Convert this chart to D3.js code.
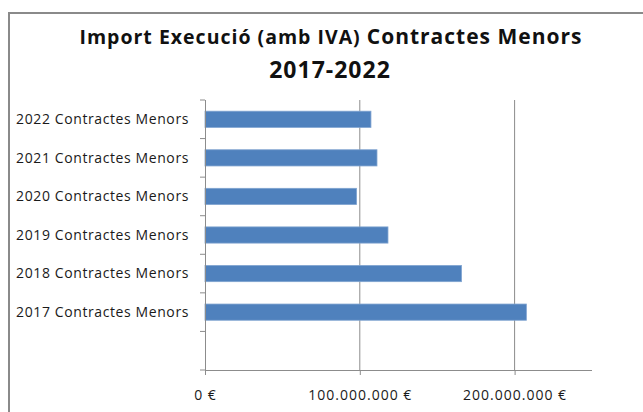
<!DOCTYPE html>
<html>
<head>
<meta charset="utf-8">
<script src="https://cdn.jsdelivr.net/npm/d3@7"></script>
<style>
  body { margin: 0; background: #fff; }
  svg { display: block; font-family: "Open Sans", "Liberation Sans", sans-serif; }
</style>
</head>
<body>
<div id="chart"></div>
<script>
// imports de contractes menors per any (euros, amb IVA)
const categories = [
  "2022 Contractes Menors",
  "2021 Contractes Menors",
  "2020 Contractes Menors",
  "2019 Contractes Menors",
  "2018 Contractes Menors",
  "2017 Contractes Menors",
  "",
];
const values = [107200000, 111100000, 97900000, 118200000, 165700000, 207600000, null];
const xTicks = [0, 100000000, 200000000];
const xMax = 250000000;

const W = 643, H = 412;
const plot = { left: 205, right: 592, top: 100, bottom: 370 };

const svg = d3.select("#chart").append("svg").attr("width", W).attr("height", H);

// marc del grafic (només es veuen les vores esquerra i superior)
svg.append("rect")
  .attr("x", 9).attr("y", 13)
  .attr("width", W + 20).attr("height", H + 20)
  .attr("fill", "#fff").attr("stroke", "#8a8a8a").attr("stroke-width", 2);

const x = d3.scaleLinear().domain([0, xMax]).range([plot.left, plot.right]);
const y = d3.scaleBand().domain(d3.range(categories.length)).range([plot.top, plot.bottom]).paddingInner(0.58).paddingOuter(0.29);
const yStep = d3.scaleBand().domain(d3.range(categories.length)).range([plot.top, plot.bottom]);

// titol
const title = svg.append("text")
  .attr("x", 331).attr("y", 44)
  .attr("text-anchor", "middle")
  .attr("font-weight", 700)
  .attr("letter-spacing", 1)
  .attr("fill", "#111");
title.append("tspan").attr("font-size", 19.5).text("Import Execució (amb IVA) ");
title.append("tspan").attr("font-size", 21).text("Contractes Menors");
svg.append("text")
  .attr("x", 330).attr("y", 78)
  .attr("text-anchor", "middle")
  .attr("font-weight", 700)
  .attr("font-size", 23)
  .attr("letter-spacing", 1)
  .attr("fill", "#111")
  .text("2017-2022");

// linies de graella verticals
svg.append("g")
  .selectAll("line")
  .data(xTicks.filter((t) => t > 0))
  .join("line")
  .attr("x1", (d) => x(d)).attr("x2", (d) => x(d))
  .attr("y1", plot.top).attr("y2", plot.bottom)
  .attr("stroke", "#8c8c8c").attr("stroke-width", 1);

// barres
svg.append("g")
  .selectAll("rect")
  .data(values.map((v, i) => ({ v, i })).filter((d) => d.v != null))
  .join("rect")
  .attr("x", x(0))
  .attr("y", (d) => y(d.i))
  .attr("width", (d) => x(d.v) - x(0))
  .attr("height", y.bandwidth())
  .attr("fill", "#4f81bd")
  .attr("stroke", "#7fa3d0")
  .attr("stroke-width", 0.8);

// eix X
const xAxis = d3.axisBottom(x)
  .tickValues(xTicks)
  .tickSize(5)
  .tickPadding(15)
  .tickFormat((d) => d3.format(",")(d).replace(/,/g, ".") + " €");
const gx = svg.append("g").attr("transform", `translate(0,${plot.bottom})`).call(xAxis);
gx.select(".domain").attr("stroke", "#8c8c8c").attr("d", `M${plot.left},0.5H${plot.right}`);
gx.selectAll(".tick line").attr("stroke", "#8c8c8c");
gx.selectAll(".tick text")
  .attr("font-size", 14)
  .attr("letter-spacing", 1)
  .attr("fill", "#1a1a1a")
  .attr("font-family", "Open Sans, sans-serif");

// eix Y amb marques entre categories
const gy = svg.append("g").attr("transform", `translate(${plot.left},0)`);
gy.append("line")
  .attr("x1", 0.5).attr("x2", 0.5)
  .attr("y1", plot.top).attr("y2", plot.bottom)
  .attr("stroke", "#8c8c8c");
gy.selectAll("line.tk")
  .data(d3.range(categories.length + 1))
  .join("line")
  .attr("class", "tk")
  .attr("x1", -5).attr("x2", 0)
  .attr("y1", (i) => plot.top + i * yStep.step())
  .attr("y2", (i) => plot.top + i * yStep.step())
  .attr("stroke", "#8c8c8c");
gy.selectAll("text")
  .data(categories)
  .join("text")
  .attr("x", -16)
  .attr("y", (d, i) => yStep(i) + yStep.bandwidth() / 2)
  .attr("dy", "0.35em")
  .attr("text-anchor", "end")
  .attr("font-size", 14)
  .attr("letter-spacing", 0.6)
  .attr("fill", "#1a1a1a")
  .text((d) => d);
</script>
</body>
</html>
